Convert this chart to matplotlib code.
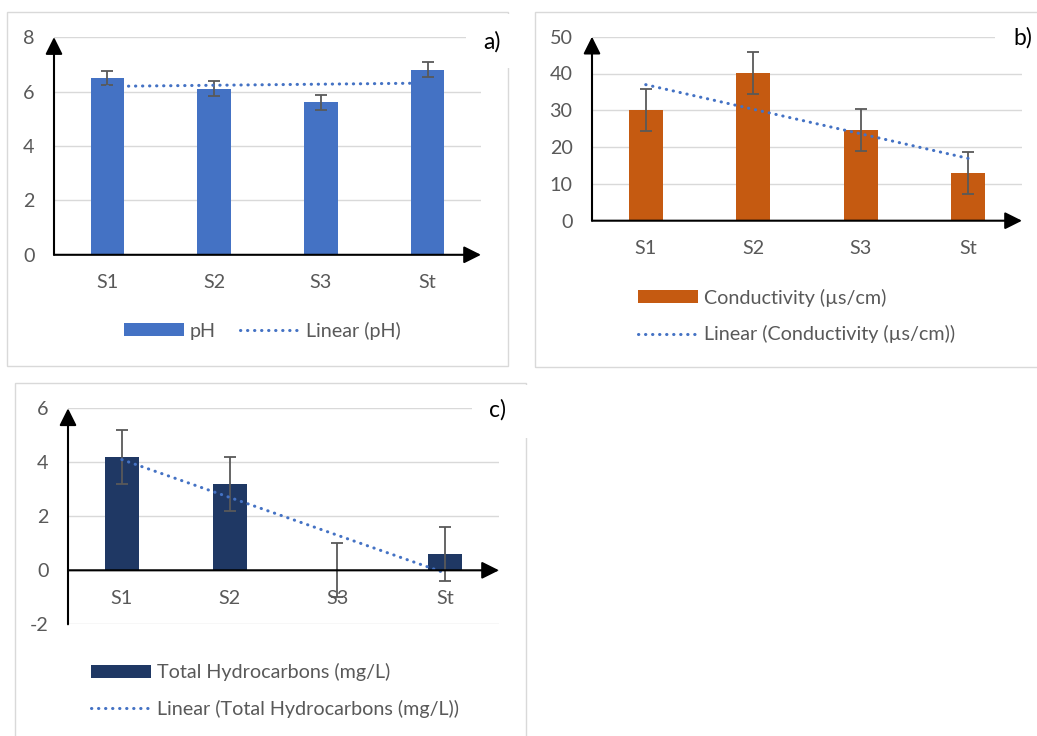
import numpy as np
import matplotlib
matplotlib.use("Agg")
import matplotlib.pyplot as plt
from matplotlib.patches import Rectangle, Patch
from matplotlib.lines import Line2D

plt.rcParams["font.family"] = ["Lato", "DejaVu Sans"]
plt.rcParams["axes.unicode_minus"] = False

W, H = 1037, 736
TEXT = "#595959"
GRID = "#D9D9D9"
TREND = "#4472C4"
FS = 14.2

sites = ["S1", "S2", "S3", "St"]

ph = [6.5, 6.1, 5.6, 6.8]
ph_err = [0.27, 0.27, 0.27, 0.27]

cond = [30.0, 40.2, 24.7, 12.9]
cond_err = [5.7, 5.7, 5.7, 5.7]

thc = [4.2, 3.2, 0.0, 0.6]
thc_err = [1.0, 1.0, 1.0, 1.0]


def fbox(left, top, right, bottom):
    return [left / W, 1 - bottom / H, (right - left) / W, (bottom - top) / H]


def frame(fig, left, top, right, bottom, color=GRID, fill=False):
    fig.add_artist(Rectangle((left / W, 1 - bottom / H), (right - left) / W,
                             (bottom - top) / H, transform=fig.transFigure,
                             fill=fill, fc="white", ec=color, lw=1.0,
                             zorder=1 if not fill else 2))


def panel(fig, box, values, errs, color, ylim, ystep, name):
    ax = fig.add_axes(fbox(*box))
    ax.set_facecolor("none")
    x = np.arange(1, len(sites) + 1)
    ax.set_xlim(0.5, len(sites) + 0.5)
    ax.set_ylim(*ylim)
    for s in ax.spines.values():
        s.set_visible(False)
    ax.set_xticks([])
    ax.set_yticks(np.arange(ylim[0], ylim[1] + ystep / 2, ystep))
    ax.tick_params(axis="y", length=0, pad=14, labelsize=FS, labelcolor=TEXT)
    ax.yaxis.grid(True, color=GRID, lw=1.0)
    ax.set_axisbelow(True)

    ax.bar(x, values, width=0.316, color=color, zorder=2)
    ax.errorbar(x, values, yerr=errs, fmt="none", ecolor=TEXT, elinewidth=1.3,
                capsize=4, capthick=1.3, zorder=3)
    k, b = np.polyfit(x, values, 1)
    ax.plot(x[[0, -1]], k * x[[0, -1]] + b, color=TREND, lw=2.2,
            linestyle=(0, (0.1, 2.2)), dash_capstyle="round", zorder=4)

    arrow = dict(arrowstyle="-|>,head_length=0.4,head_width=0.2", color="black",
                 lw=1.5, mutation_scale=26, shrinkA=0, shrinkB=0)
    ax.annotate("", xy=(len(sites) + 0.5, 0), xytext=(0.5, 0), arrowprops=arrow,
                annotation_clip=False, zorder=5)
    ax.annotate("", xy=(0.5, ylim[1]), xytext=(0.5, ylim[0]), arrowprops=arrow,
                annotation_clip=False, zorder=5)
    for xi, lab in zip(x, sites):
        ax.annotate(lab, (xi, 0), xytext=(0, -20.2), textcoords="offset points",
                    ha="center", va="center", fontsize=FS, color=TEXT,
                    annotation_clip=False)
    handles = [Patch(facecolor=color),
               Line2D([], [], color=TREND, lw=2.2, linestyle=(0, (0.1, 2.2)),
                      dash_capstyle="round")]
    labels = [name, f"Linear ({name})"]
    return ax, handles, labels


fig = plt.figure(figsize=(W / 100, H / 100), dpi=100)

# panel frames
frame(fig, 7, 12, 508, 366)
frame(fig, 535, 12, 1045, 367)
frame(fig, 15, 383, 526, 745)

leg_kw = dict(frameon=False, borderpad=0, borderaxespad=0, handlelength=3.05,
              handleheight=0.65, handletextpad=0.3, fontsize=FS,
              labelcolor=TEXT)

ax_a, h, l = panel(fig, (54, 37.1, 481, 254.8), ph, ph_err, "#4472C4",
                   (0, 8), 2, "pH")
fig.legend(h, l, loc="center left", bbox_to_anchor=(124 / W, 1 - 330.7 / H),
           ncol=2, columnspacing=1.2, **leg_kw)

ax_b, h, l = panel(fig, (592, 36.7, 1022, 220.7), cond, cond_err, "#C55A11",
                   (0, 50), 10, "Conductivity (µs/cm)")
fig.legend(h, l, loc="center left", bbox_to_anchor=(638 / W, 1 - 316 / H),
           ncol=1, labelspacing=0.95, **leg_kw)

ax_c, h, l = panel(fig, (68, 408.3, 499, 624.3), thc, thc_err, "#1F3864",
                   (-2, 6), 2, "Total Hydrocarbons (mg/L)")
fig.legend(h, l, loc="center left", bbox_to_anchor=(91 / W, 1 - 690.7 / H),
           ncol=1, labelspacing=0.95, **leg_kw)

# white boxes behind the panel letters
frame(fig, 466, 14, 513, 68, color="none", fill=True)
frame(fig, 995, 14, 1045, 62, color="none", fill=True)
frame(fig, 472, 385, 530, 438, color="none", fill=True)

for letter, px, py in [("a)", 492, 42), ("b)", 1023, 38), ("c)", 498, 410)]:
    fig.text(px / W, 1 - py / H, letter, ha="center", va="center",
             fontsize=16.5, color="black", zorder=3)

fig.savefig("out.png", dpi=100)
